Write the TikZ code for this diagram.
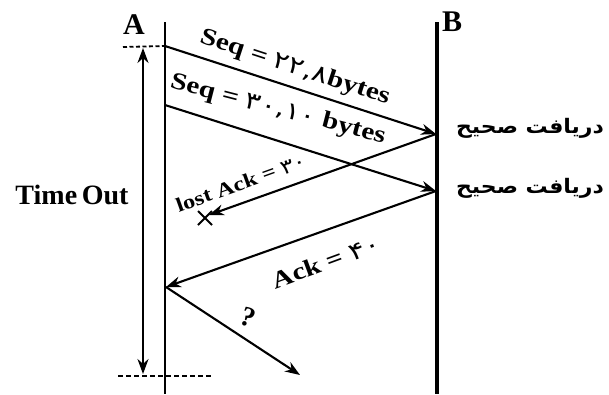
\documentclass[tikz,border=0pt]{standalone}
\usepackage{fontspec}
\setmainfont{Liberation Serif}
\newfontfamily\fa[Script=Arabic]{DejaVu Sans}
\TeXXeTstate=1
\usetikzlibrary{arrows.meta}
\newcommand{\wide}[1]{\scalebox{1.22}[1]{#1}}
\newcommand{\pd}[1]{{\fa\mdseries #1}}
\begin{document}
\begin{tikzpicture}[x=1pt,y=-1pt,
  msg/.style={line width=2.1pt,-{Stealth[length=15pt,width=11pt]}},
  lbl/.style={font=\bfseries\fontsize{24}{24}\selectfont,inner sep=0pt},
  lblsm/.style={font=\bfseries\fontsize{20}{20}\selectfont,inner sep=0pt},
  big/.style={font=\bfseries\fontsize{30}{30}\selectfont,inner sep=0pt},
  fal/.style={font=\fa\bfseries\fontsize{20}{20}\selectfont,inner sep=0pt}]
\useasboundingbox (0,0) rectangle (609,394);
% life lines
\coordinate (Atop) at (165,22); \coordinate (Abot) at (165,394);
\coordinate (Btop) at (437,22); \coordinate (Bbot) at (437,394);
\draw[line width=2.2pt] (Atop) -- (Abot);
\draw[line width=3.2pt] (Btop) -- (Bbot);
\node[big] (A) at (134,25) {A};
\node[big] (B) at (452,22) {B};
% message points
\coordinate (s1) at (165,46);
\coordinate (r1) at (436,134);
\coordinate (s2) at (165,105);
\coordinate (r2) at (436,191);
\coordinate (x3) at (209,215);
\coordinate (r4) at (166,287);
\coordinate (e5) at (300,375);
\coordinate (lx) at (205,218);
\draw[msg] (s1) -- (r1);
\draw[msg] (s2) -- (r2);
\draw[msg] (r1) -- (x3);
\draw[msg] (r2) -- (r4);
\draw[msg] (r4) -- (e5);
% lost mark
\draw[line width=2pt] ([shift={(-7,-7)}]lx) -- ([shift={(7,7)}]lx)
  ([shift={(-7,7)}]lx) -- ([shift={(7,-7)}]lx);
% timeout markers
\coordinate (d1) at (123,47);
\coordinate (d2l) at (118,376);
\coordinate (d2r) at (212,376);
\draw[line width=1.8pt,dash pattern=on 4pt off 2.5pt] (d1) -- (s1);
\draw[line width=1.8pt,dash pattern=on 5pt off 3pt] (d2l) -- (d2r);
\coordinate (t1) at (143,48);
\coordinate (t2) at (143,374);
\draw[line width=2.1pt,{Stealth[length=15pt,width=11pt]}-{Stealth[length=15pt,width=11pt]}] (t1) -- (t2);
\node[big,font=\bfseries\fontsize{28}{28}\selectfont] (to) at (72,195) {Time\,Out};
% labels
\node[lbl,rotate=-18.1] (l1) at (295,68) {\wide{Seq = \pd{۲۲,۸}bytes}};
\node[lbl,rotate=-14.5] (l2) at (278,110) {\wide{Seq = \pd{۳۰,۱۰} bytes}};
\node[lblsm,rotate=19.7] (l3) at (241,183) {\wide{lost Ack = \pd{۳۰}}};
\node[lbl,rotate=20.2] (l4) at (326,262) {\wide{Ack = \pd{۴۰}}};
\node[lbl,font=\bfseries\fontsize{28}{28}\selectfont,rotate=-20] (l5) at (248,317) {?};
\node[fal] (f1) at (530,128) {\scalebox{1.1}[1]{\beginR دریافت صحیح\endR}};
\node[fal] (f2) at (530,188) {\scalebox{1.1}[1]{\beginR دریافت صحیح\endR}};
\end{tikzpicture}
\end{document}
